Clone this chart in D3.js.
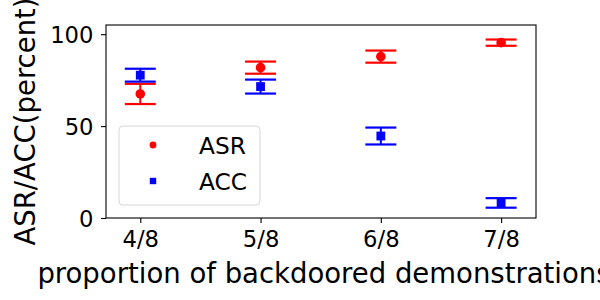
<!DOCTYPE html>
<html>
<head>
<meta charset="utf-8">
<script src="https://cdn.jsdelivr.net/npm/d3@7"></script>
<style>
  html, body { margin: 0; padding: 0; background: #fff; }
  svg { display: block; font-family: "DejaVu Sans", sans-serif; }
</style>
</head>
<body>
<div id="chart"></div>
<script>
  // data
  var categories = [4, 5, 6, 7];
  var tickLabels = ["4/8", "5/8", "6/8", "7/8"];
  var asrMean = [67.5, 81.8, 87.8, 95.4];
  var asrErr = [5.5, 3.3, 3.3, 1.7];
  var accMean = [77.7, 71.5, 44.6, 8.2];
  var accErr = [3.5, 3.8, 4.6, 2.6];
  var yTicks = [0, 50, 100];

  var W = 600, H = 300;
  var ml = 106, mr = 64, mt = 25, mb = 82;
  var iw = W - ml - mr, ih = H - mt - mb;

  var svg = d3.select("#chart").append("svg")
    .attr("width", W).attr("height", H);
  var g = svg.append("g").attr("transform", "translate(" + ml + "," + mt + ")");

  var x = d3.scaleLinear().domain([3.715, 7.29]).range([0, iw]);
  var y = d3.scaleLinear().domain([0, 105]).range([ih, 0]);

  /* axes */
  var xAxis = g.append("g").attr("transform", "translate(0," + ih + ")")
    .call(d3.axisBottom(x).tickValues(categories)
      .tickFormat(function (d, i) { return tickLabels[i]; })
      .tickSize(5).tickPadding(6));
  var yAxis = g.append("g")
    .call(d3.axisLeft(y).tickValues(yTicks).tickSize(5).tickPadding(7.5));
  [xAxis, yAxis].forEach(function (a) {
    a.select(".domain").remove();
    a.selectAll("line").attr("stroke", "#000").attr("stroke-width", 1.1);
    a.selectAll("text").attr("font-size", 22.7).attr("fill", "#000")
      .attr("font-family", "DejaVu Sans");
  });
  xAxis.selectAll("text").attr("y", 28.5).attr("dy", 0);
  yAxis.selectAll("text").attr("dy", "0.36em");

  g.append("rect")
    .attr("x", 0).attr("y", 0).attr("width", iw).attr("height", ih)
    .attr("fill", "none").attr("stroke", "#000").attr("stroke-width", 1.1);

  /* error bars + markers */
  var capW = 15.5;
  function drawSeries(mean, err, col, shape) {
    categories.forEach(function (c, i) {
      var cx = x(c);
      var y0 = y(mean[i] - err[i]), y1 = y(mean[i] + err[i]);
      g.append("line").attr("x1", cx).attr("x2", cx)
        .attr("y1", y0).attr("y2", y1)
        .attr("stroke", col).attr("stroke-width", 2);
      [y0, y1].forEach(function (yy) {
        g.append("line").attr("x1", cx - capW).attr("x2", cx + capW)
          .attr("y1", yy).attr("y2", yy)
          .attr("stroke", col).attr("stroke-width", 2.2);
      });
      if (shape === "circle") {
        g.append("circle").attr("cx", cx).attr("cy", y(mean[i]))
          .attr("r", 4.8).attr("fill", col);
      } else {
        g.append("rect").attr("x", cx - 4.4).attr("y", y(mean[i]) - 4.4)
          .attr("width", 8.8).attr("height", 8.8).attr("fill", col);
      }
    });
  }
  drawSeries(asrMean, asrErr, "#ff0000", "circle");
  drawSeries(accMean, accErr, "#0000ff", "square");

  /* legend */
  var lg = svg.append("g").attr("transform", "translate(119,126)");
  lg.append("rect").attr("width", 141).attr("height", 79)
    .attr("rx", 4).attr("fill", "#fff").attr("fill-opacity", 0.8)
    .attr("stroke", "#d6d6d6").attr("stroke-width", 1);
  lg.append("circle").attr("cx", 34).attr("cy", 19).attr("r", 3.4).attr("fill", "#ff0000");
  lg.append("rect").attr("x", 30.8).attr("y", 51.8).attr("width", 6.4).attr("height", 6.4).attr("fill", "#0000ff");
  lg.append("text").attr("x", 80).attr("y", 27.5).attr("font-size", 23.3).text("ASR");
  lg.append("text").attr("x", 80).attr("y", 63.5).attr("font-size", 23.3).text("ACC");

  /* axis labels (clipped at the edges, as in the original) */
  svg.append("text")
    .attr("x", ml + iw / 2 + 3).attr("y", 283)
    .attr("text-anchor", "middle").attr("font-size", 27.5)
    .text("proportion of backdoored demonstrations");
  svg.append("text")
    .attr("transform", "translate(35," + (mt + ih / 2) + ") rotate(-90)")
    .attr("text-anchor", "middle").attr("font-size", 27.5)
    .text("ASR/ACC(percent)");
</script>
</body>
</html>
